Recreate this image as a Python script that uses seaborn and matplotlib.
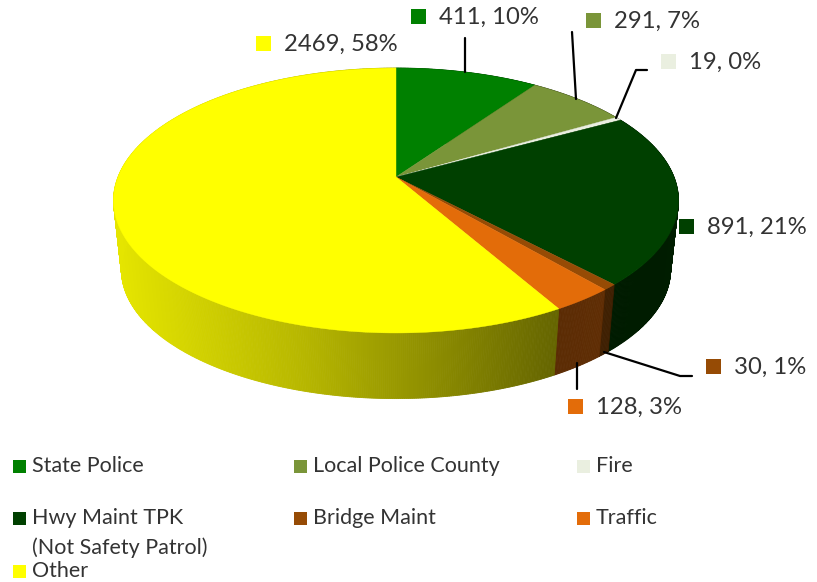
import numpy as np
import seaborn as sns
import matplotlib
matplotlib.use("Agg")
import matplotlib.pyplot as plt
from matplotlib.patches import Polygon, Rectangle

# data
categories = ["State Police", "Local Police County", "Fire",
              "Hwy Maint TPK\n(Not Safety Patrol)", "Bridge Maint", "Traffic", "Other"]
values = [411, 291, 19, 891, 30, 128, 2469]
percents = [10, 7, 0, 21, 1, 3, 58]
colors = ["#008000", "#7A9539", "#EAEFE0", "#004000", "#964B05", "#E36C09", "#FFFF00"]

sns.set_theme(style="white")
plt.rcParams["font.family"] = ["Lato", "DejaVu Sans"]
palette = sns.color_palette(colors)

fig, ax = plt.subplots(figsize=(8.17, 5.82), dpi=100)
fig.subplots_adjust(0, 0, 1, 1)
ax.set_xlim(0, 817)
ax.set_ylim(582, 0)
ax.axis("off")

# perspective of the pie disc
cx, cy = 396, 177
a, b, k = 278, 128.3, 0.1774
depth_y, depth_scale = 70, 0.972


def top_point(theta):
    u, v = np.sin(theta), np.cos(theta)
    d = 1 + k * v
    return cx + a * u / d, cy - b * v / d


def bottom_point(theta):
    x, y = top_point(theta)
    return cx + (x - cx) * depth_scale, cy + depth_y + (y - cy) * depth_scale


def shade(x):
    return np.interp(x, [113, 300, 555, 680], [0.90, 0.72, 0.40, 0.45])


fractions = np.array(values) / sum(values)
edges = np.concatenate([[0], np.cumsum(fractions)]) * 2 * np.pi

# side of the pie first, strip by strip for the gradient
for i, col in enumerate(palette):
    steps = np.arange(edges[i], edges[i + 1], 0.006)
    steps = np.append(steps, edges[i + 1])
    for t0, t1 in zip(steps[:-1], steps[1:]):
        p0, p1 = top_point(t0), top_point(t1)
        q0, q1 = bottom_point(t0), bottom_point(t1)
        c = np.array(col) * shade((p0[0] + p1[0]) / 2)
        ax.add_patch(Polygon([p0, p1, q1, q0], closed=True, fc=c, ec=c, lw=0.6, zorder=1))

# top faces
for i, col in enumerate(palette):
    ts = np.linspace(edges[i], edges[i + 1], 200)
    xs, ys = top_point(ts)
    pts = np.column_stack([np.r_[cx, xs], np.r_[cy, ys]])
    ax.add_patch(Polygon(pts, closed=True, fc=col, ec=col, lw=0.3, zorder=2))

# data labels
label_pos = [(411, 16), (586, 20), (661, 61), (679, 226), (706, 366), (568, 406), (256, 43)]
leaders = [
    [(465, 38), (465, 72)],
    [(572, 32), (576, 99)],
    [(647, 70), (636, 70), (616, 118)],
    None,
    [(692, 376), (680, 376), (604, 352)],
    [(577, 363), (577, 389)],
    None,
]
for i, (x, y) in enumerate(label_pos):
    ax.add_patch(Rectangle((x, y - 7.5), 15, 15, fc=palette[i], ec="none", zorder=3))
    ax.text(x + 28, y + 1, f"{values[i]}, {percents[i]}%", fontsize=17.2, color="#333333",
            va="center", ha="left", zorder=3)
    if leaders[i] is not None:
        lx, ly = zip(*leaders[i])
        ax.plot(lx, ly, color="black", lw=1.6, zorder=3)

# legend
legend_pos = [(13, 466), (294, 466), (577, 466), (13, 518), (294, 518), (577, 518), (13, 571)]
for i, (x, y) in enumerate(legend_pos):
    ax.add_patch(Rectangle((x, y - 6.5), 13, 13, fc=palette[i], ec="none", zorder=3))
    lines = categories[i].split("\n")
    ax.text(x + 19, y, lines[0], fontsize=15.5, color="#333333", va="center", ha="left")
    if len(lines) > 1:
        ax.text(x + 19, y + 30, lines[1], fontsize=15.5, color="#333333", va="center", ha="left")

plt.savefig("out.png", dpi=100)
plt.close()
